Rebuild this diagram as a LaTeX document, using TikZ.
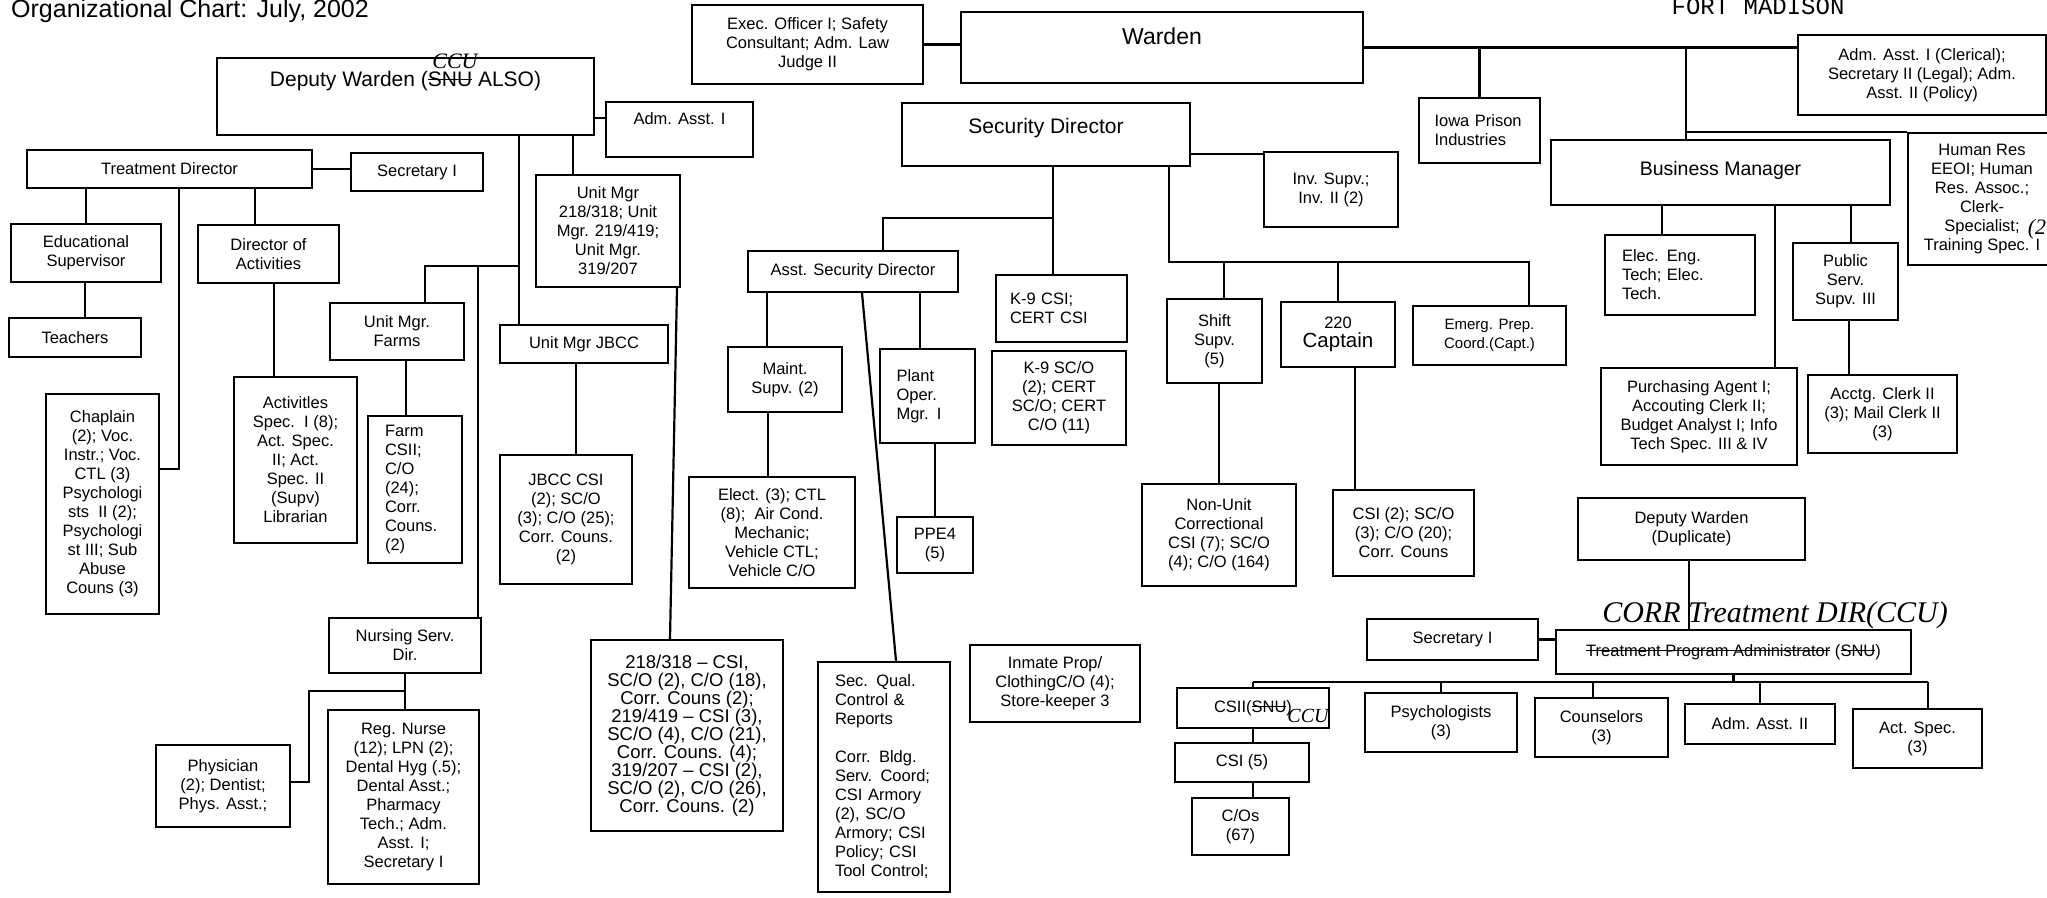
\documentclass[tikz,border=0pt]{standalone}
\usepackage{fontspec}
\setmainfont{Liberation Sans}
\setmonofont{Liberation Mono}
\newfontfamily\handfont{Liberation Serif}
\newcommand\strk[1]{\setbox0\hbox{#1}\rlap{\rule[0.3em]{\wd0}{1.3pt}}\box0\relax}
\tikzset{
  box/.style={draw, line width=2.2pt, inner sep=1pt, align=center, font=\fontsize{16.5}{19}\selectfont},
  lbox/.style={box, align=left, text width=#1pt},
  wh/.style 2 args={minimum width=#1pt, minimum height=#2pt},
  link/.style={line width=2.2pt},
  hand/.style={inner sep=0pt, font=\handfont\itshape\fontsize{#1}{#1}\selectfont},
}
\begin{document}
\begin{tikzpicture}[x=1pt,y=-1pt]
\useasboundingbox (0,0) rectangle (2047,897);

\node[anchor=base west, inner sep=0pt, font=\fontsize{25}{25}\selectfont] (title) at (11,17) {Organizational Chart: July, 2002};
\node[anchor=base, inner sep=0pt, font=\ttfamily\fontsize{24}{24}\selectfont] (place) at (1758,14) {FORT MADISON};

% warden row
\node[box, wh={231}{79}] (exec) at (807.5,44.5) {Exec. Officer I; Safety\\Consultant; Adm. Law\\Judge II};
\node[box, wh={402}{71}, font=\fontsize{23}{26}\selectfont, text depth=22pt] (warden) at (1162,47.5) {Warden};
\node[box, wh={248}{80}] (admcl) at (1922,75) {Adm. Asst. I (Clerical);\\Secretary II (Legal); Adm.\\Asst. II (Policy)};
\node[lbox=90, wh={121}{65}] (ipi) at (1479.5,130.5) {Iowa Prison\\Industries};
\node[box, wh={339}{65}, font=\fontsize{19.5}{22}\selectfont, text depth=9pt] (busmgr) at (1720.5,172.5) {Business Manager};
\node[box, wh={148}{132}] (humres) at (1982,199) {Human Res\\EEOI; Human\\Res. Assoc.;\\Clerk-\\Specialist;\\Training Spec. I};
\node[hand=22] (hrnote) at (2037,229) {(2};
\node[lbox=116, wh={150}{80}] (elec) at (1680,275) {Elec. Eng.\\Tech; Elec.\\Tech.};
\node[box, wh={105}{77}] (pubserv) at (1845.5,281.5) {Public\\Serv.\\Supv. III};
\node[box, wh={196}{97}] (purch) at (1699,416.5) {Purchasing Agent I;\\Accouting Clerk II;\\Budget Analyst I; Info\\Tech Spec. III \& IV};
\node[box, wh={149}{78}] (acctg) at (1882.5,414) {Acctg. Clerk II\\(3); Mail Clerk II\\(3)};

% security
\node[box, wh={288}{63}, font=\fontsize{21}{24}\selectfont, text depth=18pt] (secdir) at (1046,134.5) {Security Director};
\node[box, wh={134}{75}] (inv) at (1331,189.5) {Inv. Supv.;\\Inv. II (2)};
\node[box, wh={210}{41}] (asd) at (853,271.5) {Asst. Security Director};
\node[lbox=103, wh={131}{67}] (kcsi) at (1061.5,308.5) {K-9 CSI;\\CERT CSI};
\node[box, wh={134}{94}] (ksco) at (1059,398) {K-9 SC/O\\(2); CERT\\SC/O; CERT\\C/O (11)};
\node[box, wh={114}{65}] (maint) at (785,379.5) {Maint.\\Supv. (2)};
\node[box, wh={166}{111}] (elect) at (772,532.5) {Elect. (3); CTL\\(8);\ \ Air Cond.\\Mechanic;\\Vehicle CTL;\\Vehicle C/O};
\node[lbox=62, wh={95}{94}] (plant) at (927.5,396) {Plant\\Oper.\\Mgr. I};
\node[box, wh={76}{56}] (ppe) at (935,545) {PPE4\\(5)};
\node[lbox=98, wh={132}{230}] (secq) at (884,777) {Sec. Qual.\\Control \&\\Reports\\[19pt]Corr. Bldg.\\Serv. Coord;\\CSI Armory\\(2), SC/O\\Armory; CSI\\Policy; CSI\\Tool Control;};
\node[box, wh={170}{77}] (inmate) at (1055,683.5) {Inmate Prop/\\ClothingC/O (4);\\Store-keeper 3};
\node[box, wh={95}{84}] (shift) at (1214.5,341) {Shift\\Supv.\\(5)};
\node[box, wh={114}{65}] (capt) at (1338,334.5) {220\\{\fontsize{20.5}{22}\selectfont Captain}};
\node[box, wh={153}{59}, font=\fontsize{15}{19}\selectfont] (emerg) at (1489.5,335.5) {Emerg. Prep.\\Coord.(Capt.)};
\node[box, wh={154}{102}] (nonunit) at (1219,535) {Non-Unit\\Correctional\\CSI (7); SC/O\\(4); C/O (164)};
\node[box, wh={141}{86}] (captcsi) at (1403.5,533) {CSI (2); SC/O\\(3); C/O (20);\\Corr. Couns};

% deputy warden
\node[box, wh={377}{77}, font=\fontsize{21}{24}\selectfont, text depth=35pt] (dw) at (405.5,96.5) {Deputy Warden (\strk{SNU} ALSO)};
\node[hand=22] (dwnote) at (455,61) {CCU};
\node[box, wh={147}{55}, text depth=21pt] (adm) at (679.5,129.5) {Adm. Asst. I};
\node[box, wh={285}{38}] (treat) at (169.5,169) {Treatment Director};
\node[box, wh={132}{38}] (sec) at (417,172) {Secretary I};
\node[box, wh={150}{58}] (edsup) at (86,253) {Educational\\Supervisor};
\node[box, wh={141}{58}] (diract) at (268.5,254) {Director of\\Activities};
\node[box, wh={132}{39}] (teach) at (75,337.5) {Teachers};
\node[box, wh={113}{220}] (chap) at (102.5,504) {Chaplain\\(2); Voc.\\Instr.; Voc.\\CTL (3)\\Psychologi\\sts\ \ II (2);\\Psychologi\\st III; Sub\\Abuse\\Couns (3)};
\node[box, wh={123}{166}] (actsp) at (295.5,460) {Activitles\\Spec.\ \ I (8);\\Act. Spec.\\II; Act.\\Spec. II\\(Supv)\\Librarian};
\node[box, wh={134}{57}] (farms) at (397,331.5) {Unit Mgr.\\Farms};
\node[lbox=60, wh={94}{147}] (farmcsi) at (415,489.5) {Farm\\CSII;\\C/O\\(24);\\Corr.\\Couns.\\(2)};
\node[box, wh={144}{112}] (um) at (608,231) {Unit Mgr\\218/318; Unit\\Mgr. 219/419;\\Unit Mgr.\\319/207};
\node[box, wh={168}{38}] (umjbcc) at (584,344) {Unit Mgr JBCC};
\node[box, wh={132}{129}] (jbcsi) at (566,519.5) {JBCC CSI\\(2); SC/O\\(3); C/O (25);\\Corr. Couns.\\(2)};
\node[box, wh={152}{55}] (nurse) at (405,645.5) {Nursing Serv.\\Dir.};
\node[box, wh={134}{82}] (phys) at (223,786) {Physician\\(2); Dentist;\\Phys. Asst.;};
\node[box, wh={151}{174}] (nurses) at (403.5,797) {Reg. Nurse\\(12); LPN (2);\\Dental Hyg (.5);\\Dental Asst.;\\Pharmacy\\Tech.; Adm.\\Asst. I;\\Secretary I};
\node[box, wh={192}{191}, font=\fontsize{18.5}{18}\selectfont] (units) at (687,735.5) {218/318 -- CSI,\\SC/O (2), C/O (18),\\Corr. Couns (2);\\219/419 -- CSI (3),\\SC/O (4), C/O (21),\\Corr. Couns. (4);\\319/207 -- CSI (2),\\SC/O (2), C/O (26),\\Corr. Couns. (2)};

% duplicate deputy warden
\node[box, wh={227}{62}] (dwdup) at (1691.5,529) {Deputy Warden\\(Duplicate)};
\node[box, wh={355}{44}] (tpa) at (1733.5,652) {\strk{Treatment Program Administrator} (\strk{SNU})};
\node[hand=30] (tpanote) at (1775,615) {CORR Treatment DIR(CCU)};
\node[box, wh={171}{41}] (secb) at (1452.5,639.5) {Secretary I};
\node[box, wh={152}{40}] (csii) at (1253,708) {CSII(\strk{SNU})};
\node[hand=20] (csiinote) at (1308,716) {CCU};
\node[box, wh={134}{39}] (csi5) at (1242,762.5) {CSI (5)};
\node[box, wh={97}{57}] (cos) at (1240.5,826.5) {C/Os\\(67)};
\node[box, wh={152}{59}] (psych) at (1441,722.5) {Psychologists\\(3)};
\node[box, wh={133}{59}] (couns) at (1601.5,727.5) {Counselors\\(3)};
\node[box, wh={150}{40}] (adm2) at (1760,724) {Adm. Asst. II};
\node[box, wh={129}{59}] (actsp2) at (1917.5,738.5) {Act. Spec.\\(3)};

% connectors
\draw[link] (exec.east) -- (exec.east -| warden.west);
\draw[link] (warden.east) -- (warden.east -| admcl.west);
\coordinate (bizj) at (1686,47.5);
\draw[link] (ipi.north |- warden.east) -- (ipi.north);
\draw[link] (bizj) -- (bizj |- busmgr.north);
\draw[link] (bizj |- humres.north) -- (humres.north west);
\draw[link] (busmgr.south -| 1662,0) -- (elec.north -| 1662,0);
\draw[link] (busmgr.south -| 1775,0) -- (purch.north -| 1775,0);
\draw[link] (busmgr.south -| 1851,0) -- (pubserv.north -| 1851,0);
\draw[link] (pubserv.south -| 1849,0) -- (acctg.north -| 1849,0);

\draw[link] (secdir.east |- 0,154) -- (inv.west |- 0,154);
\coordinate (sdj) at (1053,218);
\draw[link] (secdir.south -| sdj) -- (kcsi.north -| sdj);
\draw[link] (sdj) -| (asd.north -| 883,0);
\coordinate (sdk) at (1169,262);
\draw[link] (secdir.south -| sdk) |- (1529,262) -- (emerg.north -| 1529,0);
\draw[link] (1224,262) -- (shift.north -| 1224,0);
\draw[link] (capt.north |- sdk) -- (capt.north);
\draw[link] (asd.south -| 767,0) -- (maint.north -| 767,0);
\draw[link] (asd.south -| 920,0) -- (plant.north -| 920,0);
\draw[link] (asd.south -| 862,0) -- (secq.north -| 896,0);
\draw[link] (maint.south -| 768,0) -- (elect.north -| 768,0);
\draw[link] (plant.south -| 935,0) -- (ppe.north);
\draw[link] (shift.south -| nonunit.north) -- (nonunit.north);
\draw[link] (capt.south -| 1355,0) -- (captcsi.north -| 1355,0);

\draw[link] (dw.east |- 0,118) -- (adm.west |- 0,118);
\coordinate (dwa) at (519,266);
\coordinate (dwb) at (478,266);
\draw[link] (dw.south -| dwa) -- (umjbcc.north -| dwa);
\draw[link] (dw.south -| 573,0) -- (um.north -| 573,0);
\draw[link] (dwa) -| (farms.north -| 425,0);
\draw[link] (dwb) -- (nurse.north -| dwb);
\draw[link] (um.south -| 677,0) -- (units.north -| 670,0);
\draw[link] (treat.east) -- (treat.east -| sec.west);
\draw[link] (treat.south -| edsup.north) -- (edsup.north);
\draw[link] (treat.south -| 255,0) -- (diract.north -| 255,0);
\draw[link] (treat.south -| 179,0) |- (chap.east |- 0,469);
\draw[link] (edsup.south -| 85,0) -- (teach.north -| 85,0);
\draw[link] (diract.south -| 274,0) -- (actsp.north -| 274,0);
\draw[link] (farms.south -| 406,0) -- (farmcsi.north -| 406,0);
\draw[link] (umjbcc.south -| 576,0) -- (jbcsi.north -| 576,0);
\draw[link] (nurse.south) -- (nurses.north -| nurse.south);
\draw[link] (nurse.south |- 0,691) -| (309,782) -- (phys.east |- 0,782);

\draw[link] (dwdup.south -| 1689,0) -- (tpa.north -| 1689,0);
\draw[link] (secb.east) -- (secb.east -| tpa.west);
\coordinate (bus) at (1253,682);
\coordinate (busend) at (1928,682);
\draw[link] (bus) -- (busend);
\draw[link] (tpa.south) -- (tpa.south |- bus);
\draw[link] (bus) -- (bus |- csii.north);
\draw[link] (csii.south -| bus) -- (csi5.north -| bus);
\draw[link] (csi5.south -| bus) -- (cos.north -| bus);
\draw[link] (psych.north |- bus) -- (psych.north);
\draw[link] (1593,682) -- (couns.north -| 1593,0);
\draw[link] (adm2.north |- bus) -- (adm2.north);
\draw[link] (busend) -- (actsp2.north -| busend);

\end{tikzpicture}
\end{document}
